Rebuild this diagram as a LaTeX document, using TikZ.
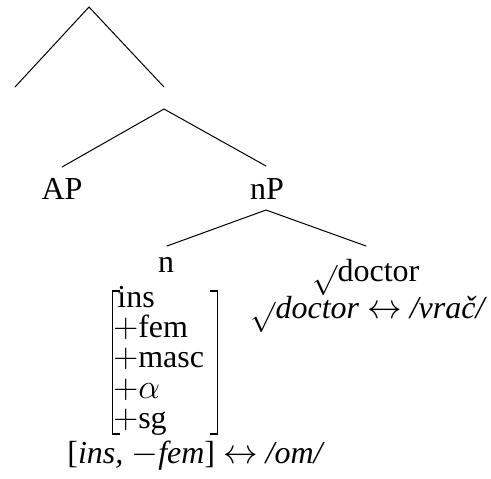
\documentclass[tikz,border=0pt]{standalone}
\usepackage[no-math]{fontspec}
\setmainfont{Liberation Serif}
\newfontfamily\tnr{Liberation Serif}
\usepackage{graphicx}
\newcommand{\mth}[1]{$#1$}
\newcommand{\rad}{\raisebox{-3.5pt}{\scalebox{0.875}{$\surd$}}}
\begin{document}
\begin{tikzpicture}[x=0.5pt,y=-0.5pt,
  lab/.style={inner sep=0pt, text height=0.68em, text depth=0.18em, font=\tnr\fontsize{16}{19}\selectfont},
  edge/.style={line width=0.5pt, line cap=round},
  brk/.style={line width=0.7pt}]
\useasboundingbox (0,0) rectangle (491,478);
% tree skeleton
\coordinate (root) at (89,7);
\coordinate (L) at (15,87);
\coordinate (Rt) at (164,87);
\coordinate (Rb) at (164,109);
\node[lab, anchor=base] (AP) at (62,199) {AP};
\node[lab, anchor=base] (nP) at (267,199) {nP};
\coordinate (APt) at (62,167);
\coordinate (nPt) at (266,166);
\coordinate (nPb) at (266,210);
\node[lab, anchor=base] (n) at (166,272) {n};
\coordinate (nt) at (167,246);
\node[lab, anchor=base west] (rootdoc) at (312,281) {\rad doctor};
\coordinate (rt) at (366,246);
\draw[edge] (L) -- (root) -- (Rt);
\draw[edge] (APt) -- (Rb) -- (nPt);
\draw[edge] (nt) -- (nPb) -- (rt);
% feature matrix
\node[lab, anchor=base west] (f1) at (117,307) {ins};
\node[lab, anchor=base west] (f2) at (113,337) {\mth{+}fem};
\node[lab, anchor=base west] (f3) at (113,367) {\mth{+}masc};
\node[lab, anchor=base west] (f4) at (113,398) {\mth{+\alpha}};
\node[lab, anchor=base west] (f5) at (113,428) {\mth{+}sg};
\draw[brk] (120,291) -- (112.5,291) -- (112.5,434) -- (120,434);
\draw[brk] (210,291) -- (217.5,291) -- (217.5,434) -- (210,434);
% vocabulary items
\node[lab, anchor=base west] (vr) at (250,318) {\rad\textit{doctor} \mth{\leftrightarrow} \textit{/vrač/}};
\node[lab, anchor=base west] (om) at (67,463) {[\textit{ins,} \mth{-}\textit{fem}] \mth{\leftrightarrow} \textit{/om/}};
\end{tikzpicture}
\end{document}
